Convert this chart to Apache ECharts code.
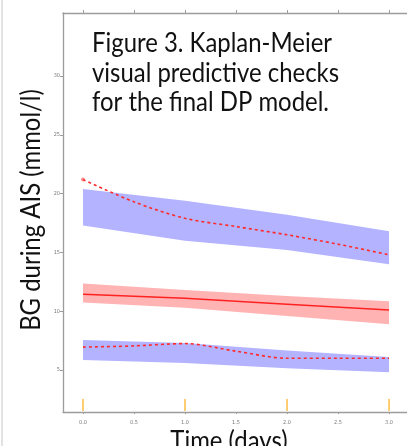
<!DOCTYPE html>
<html>
<head>
<meta charset="utf-8">
<script src="https://cdn.jsdelivr.net/npm/echarts@6/dist/echarts.min.js"></script>
<style>html,body{margin:0;padding:0;background:#fff;}#c{width:407px;height:446px;}</style>
</head>
<body>
<div id="c"></div>
<script>
// ---- data ----
var bandTimes = [0, 1, 2, 3];
var upperPiLow  = [17.3, 16.0, 15.2, 14.0];
var upperPiHigh = [20.4, 19.4, 18.2, 16.8];
var medPiLow    = [10.75, 10.3, 9.6, 8.9];
var medPiHigh   = [12.35, 11.8, 11.3, 10.85];
var lowerPiLow  = [5.85, 5.6, 5.15, 4.8];
var lowerPiHigh = [7.55, 7.3, 6.65, 6.1];
var medObs      = [11.45, 11.1, 10.6, 10.1];
var obsTimes    = [0, 0.5, 1, 1.5, 2, 2.5, 3];
var upperObs    = [21.2, 19.3, 17.9, 17.2, 16.5, 15.7, 14.8];
var lowerObs    = [6.95, 7.05, 7.25, 6.6, 6.0, 6.0, 6.0];
var rugTimes    = [0, 1, 2, 3];
var xTicks      = [0, 0.5, 1, 1.5, 2, 2.5, 3];
var yTicks      = [5, 10, 15, 20, 25, 30];

var X_MIN = -0.196, X_MAX = 3.176, Y_MIN = 1.43, Y_MAX = 35.36;

function pairs(xs, ys){ return ys.map(function(v,i){ return [xs[i], v]; }); }

var bands = [
  {lo: upperPiLow, hi: upperPiHigh, color: '#b3b3ff'},
  {lo: medPiLow,   hi: medPiHigh,   color: '#ffb3b3'},
  {lo: lowerPiLow, hi: lowerPiHigh, color: '#b3b3ff'}
];

var axisGray = '#9c9c9c';
var chart = echarts.init(document.getElementById('c'), null, {renderer:'canvas'});
var series = [
  {type:'custom', data:bands.map(function(b,i){ return [bandTimes[0], b.lo[0], i]; }), encode:{x:0, y:1},
    renderItem:function(params, api){
      var b = bands[params.dataIndex];
      var pts = [];
      for (var i=0;i<bandTimes.length;i++) pts.push(api.coord([bandTimes[i], b.hi[i]]));
      for (var j=bandTimes.length-1;j>=0;j--) pts.push(api.coord([bandTimes[j], b.lo[j]]));
      return {type:'polygon', shape:{points:pts}, style:{fill:b.color}};
    }, silent:true, z:1},
  {type:'line', data:pairs(bandTimes, medObs), symbol:'none', lineStyle:{color:'#ff2222', width:1.5}, z:3},
  {type:'line', data:pairs(obsTimes, upperObs), symbol:'none', smooth:0.3, lineStyle:{color:'#ff2a2a', width:1.6, type:[3,3]}, z:3},
  {type:'line', data:pairs(obsTimes, lowerObs), symbol:'none', smooth:0.3, lineStyle:{color:'#ff2a2a', width:1.6, type:[3,3]}, z:3},
  {type:'scatter', data:[[obsTimes[0], upperObs[0]]], symbol:'circle', symbolSize:4, itemStyle:{color:'rgba(255,60,60,0.7)'}, z:4},
  {type:'custom', data:rugTimes.map(function(t){return [t, Y_MIN];}), encode:{x:0, y:1},
    renderItem:function(params, api){
      var p = api.coord([api.value(0), Y_MIN]);
      return {type:'line', shape:{x1:p[0], y1:p[1]-1, x2:p[0], y2:p[1]-13}, style:{stroke:'#ffc24f', lineWidth:1.6}};
    }, z:5}
];

chart.setOption({
  animation:false,
  grid:{left:63, top:13, right:0, bottom:34, containLabel:false},
  xAxis:[
    {type:'value', position:'bottom', min:X_MIN, max:X_MAX,
      axisLine:{show:true, onZero:false, lineStyle:{color:axisGray, width:1.3}},
      axisTick:{show:true, length:2, customValues:xTicks, lineStyle:{color:axisGray}},
      axisLabel:{show:true, customValues:xTicks, margin:8, fontSize:5.5, color:'#777', fontFamily:'DejaVu Sans Condensed, DejaVu Sans',
        formatter:function(v){return v.toFixed(1);}},
      splitLine:{show:false}},
    {type:'value', position:'top', min:X_MIN, max:X_MAX,
      axisLine:{show:true, onZero:false, lineStyle:{color:axisGray, width:1.3}},
      axisTick:{show:true, length:3, customValues:xTicks, lineStyle:{color:axisGray}},
      axisLabel:{show:false}, splitLine:{show:false}}
  ],
  yAxis:{type:'value', min:Y_MIN, max:Y_MAX,
    axisLine:{show:true, onZero:false, lineStyle:{color:axisGray, width:1.3}},
    axisTick:{show:true, length:3, customValues:yTicks, lineStyle:{color:axisGray}},
    axisLabel:{show:true, customValues:yTicks, margin:3, fontSize:5.5, color:'#777', fontFamily:'DejaVu Sans Condensed, DejaVu Sans'},
    splitLine:{show:false}},
  series:series,
  graphic:[
    {type:'rect', shape:{x:1, y:0, width:2, height:446}, style:{fill:'#e2e2e2'}, silent:true},
    {type:'text', x:92, y:44, scaleX:0.92, style:{text:'Figure 3. Kaplan-Meier', font:'26px Lato', fill:'#111', verticalAlign:'middle'}},
    {type:'text', x:92, y:73.5, scaleX:0.92, style:{text:'visual predictive checks', font:'26px Lato', fill:'#111', verticalAlign:'middle'}},
    {type:'text', x:92, y:103, scaleX:0.92, style:{text:'for the final DP model.', font:'26px Lato', fill:'#111', verticalAlign:'middle'}},
    {type:'text', x:32, y:210, rotation:Math.PI/2, scaleX:0.92, style:{text:'BG during AIS (mmol/l)', font:'26px Lato', fill:'#111', align:'center', verticalAlign:'middle'}},
    {type:'text', x:229, y:442, scaleX:0.92, style:{text:'Time (days)', font:'26px Lato', fill:'#111', align:'center', verticalAlign:'middle'}}
  ]
});
</script>
</body>
</html>
